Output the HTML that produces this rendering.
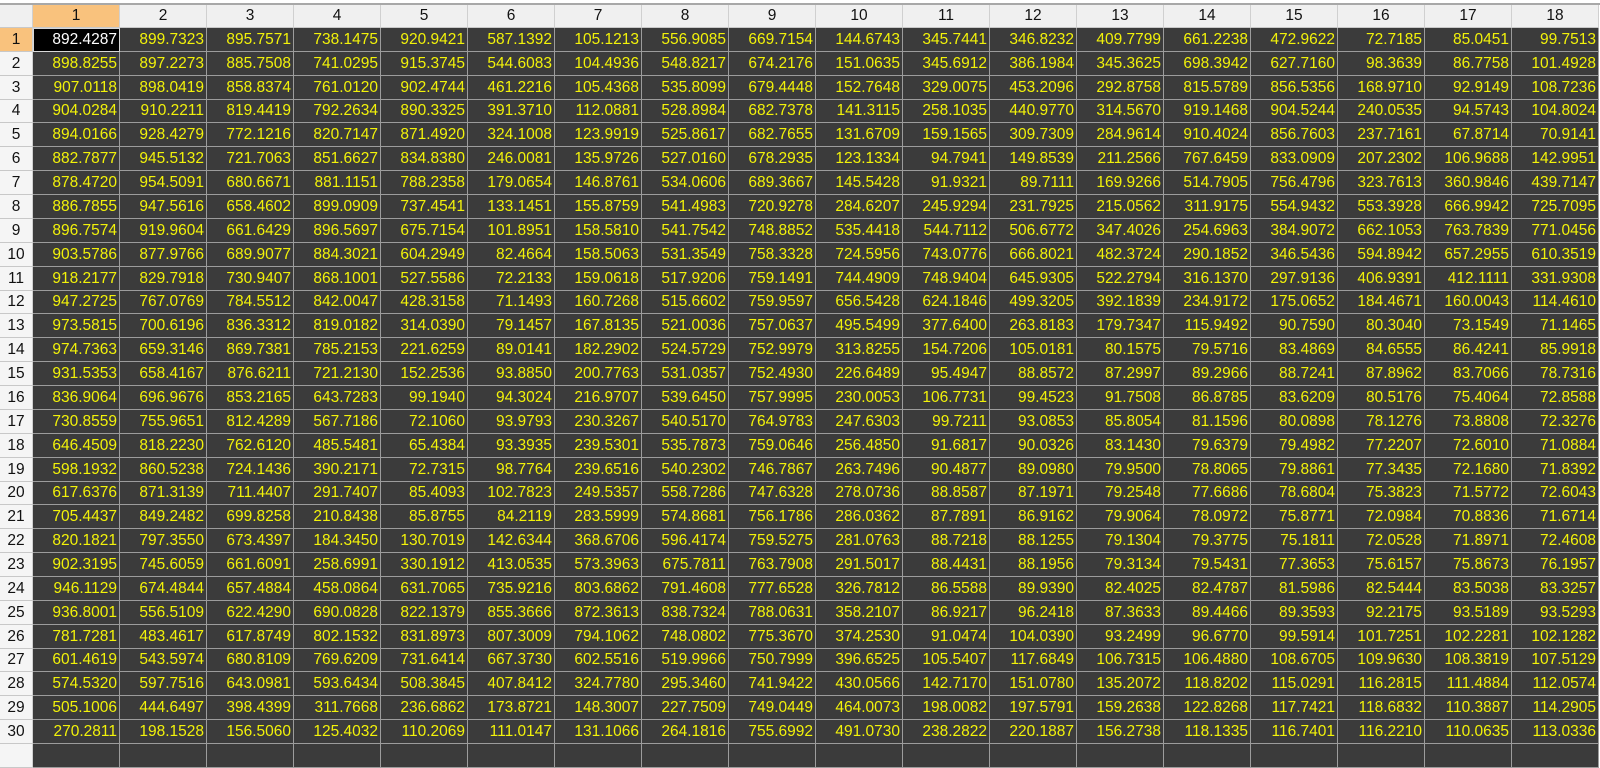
<!DOCTYPE html>
<html><head><meta charset="utf-8">
<style>
html,body{margin:0;padding:0;width:1600px;height:752px;overflow:hidden;background:#fff;font-family:"Liberation Sans",sans-serif;}
#sheet{position:absolute;left:0;top:0;width:1600px;height:752px;}
.c{position:absolute;box-sizing:border-box;font-size:15.5px;white-space:nowrap;overflow:hidden;display:flex;align-items:center;}
.d{background:#3b3b3b;color:#f2f20a;justify-content:flex-end;padding-right:2px;border-right:1px solid #9c9c9c;border-bottom:1px solid #9c9c9c;}
.h{background:#f0f0f0;color:#111;justify-content:center;border-right:1px solid #d0d0d0;border-bottom:1px solid #c8c8c8;}
.sel{background:#f9c27d;}
.act{background:#000;color:#fff;border:1px solid #d8d8d8;}
</style></head>
<body>
<div id="sheet">
<div style="position:absolute;left:0;top:0;width:1600px;height:3px;background:#fff"></div>
<div style="position:absolute;left:0;top:3px;width:1600px;height:2px;background:#a8a8a8"></div>
</div>
<script>
const rows=[
"892.4287 899.7323 895.7571 738.1475 920.9421 587.1392 105.1213 556.9085 669.7154 144.6743 345.7441 346.8232 409.7799 661.2238 472.9622 72.7185 85.0451 99.7513",
"898.8255 897.2273 885.7508 741.0295 915.3745 544.6083 104.4936 548.8217 674.2176 151.0635 345.6912 386.1984 345.3625 698.3942 627.7160 98.3639 86.7758 101.4928",
"907.0118 898.0419 858.8374 761.0120 902.4744 461.2216 105.4368 535.8099 679.4448 152.7648 329.0075 453.2096 292.8758 815.5789 856.5356 168.9710 92.9149 108.7236",
"904.0284 910.2211 819.4419 792.2634 890.3325 391.3710 112.0881 528.8984 682.7378 141.3115 258.1035 440.9770 314.5670 919.1468 904.5244 240.0535 94.5743 104.8024",
"894.0166 928.4279 772.1216 820.7147 871.4920 324.1008 123.9919 525.8617 682.7655 131.6709 159.1565 309.7309 284.9614 910.4024 856.7603 237.7161 67.8714 70.9141",
"882.7877 945.5132 721.7063 851.6627 834.8380 246.0081 135.9726 527.0160 678.2935 123.1334 94.7941 149.8539 211.2566 767.6459 833.0909 207.2302 106.9688 142.9951",
"878.4720 954.5091 680.6671 881.1151 788.2358 179.0654 146.8761 534.0606 689.3667 145.5428 91.9321 89.7111 169.9266 514.7905 756.4796 323.7613 360.9846 439.7147",
"886.7855 947.5616 658.4602 899.0909 737.4541 133.1451 155.8759 541.4983 720.9278 284.6207 245.9294 231.7925 215.0562 311.9175 554.9432 553.3928 666.9942 725.7095",
"896.7574 919.9604 661.6429 896.5697 675.7154 101.8951 158.5810 541.7542 748.8852 535.4418 544.7112 506.6772 347.4026 254.6963 384.9072 662.1053 763.7839 771.0456",
"903.5786 877.9766 689.9077 884.3021 604.2949 82.4664 158.5063 531.3549 758.3328 724.5956 743.0776 666.8021 482.3724 290.1852 346.5436 594.8942 657.2955 610.3519",
"918.2177 829.7918 730.9407 868.1001 527.5586 72.2133 159.0618 517.9206 759.1491 744.4909 748.9404 645.9305 522.2794 316.1370 297.9136 406.9391 412.1111 331.9308",
"947.2725 767.0769 784.5512 842.0047 428.3158 71.1493 160.7268 515.6602 759.9597 656.5428 624.1846 499.3205 392.1839 234.9172 175.0652 184.4671 160.0043 114.4610",
"973.5815 700.6196 836.3312 819.0182 314.0390 79.1457 167.8135 521.0036 757.0637 495.5499 377.6400 263.8183 179.7347 115.9492 90.7590 80.3040 73.1549 71.1465",
"974.7363 659.3146 869.7381 785.2153 221.6259 89.0141 182.2902 524.5729 752.9979 313.8255 154.7206 105.0181 80.1575 79.5716 83.4869 84.6555 86.4241 85.9918",
"931.5353 658.4167 876.6211 721.2130 152.2536 93.8850 200.7763 531.0357 752.4930 226.6489 95.4947 88.8572 87.2997 89.2966 88.7241 87.8962 83.7066 78.7316",
"836.9064 696.9676 853.2165 643.7283 99.1940 94.3024 216.9707 539.6450 757.9995 230.0053 106.7731 99.4523 91.7508 86.8785 83.6209 80.5176 75.4064 72.8588",
"730.8559 755.9651 812.4289 567.7186 72.1060 93.9793 230.3267 540.5170 764.9783 247.6303 99.7211 93.0853 85.8054 81.1596 80.0898 78.1276 73.8808 72.3276",
"646.4509 818.2230 762.6120 485.5481 65.4384 93.3935 239.5301 535.7873 759.0646 256.4850 91.6817 90.0326 83.1430 79.6379 79.4982 77.2207 72.6010 71.0884",
"598.1932 860.5238 724.1436 390.2171 72.7315 98.7764 239.6516 540.2302 746.7867 263.7496 90.4877 89.0980 79.9500 78.8065 79.8861 77.3435 72.1680 71.8392",
"617.6376 871.3139 711.4407 291.7407 85.4093 102.7823 249.5357 558.7286 747.6328 278.0736 88.8587 87.1971 79.2548 77.6686 78.6804 75.3823 71.5772 72.6043",
"705.4437 849.2482 699.8258 210.8438 85.8755 84.2119 283.5999 574.8681 756.1786 286.0362 87.7891 86.9162 79.9064 78.0972 75.8771 72.0984 70.8836 71.6714",
"820.1821 797.3550 673.4397 184.3450 130.7019 142.6344 368.6706 596.4174 759.5275 281.0763 88.7218 88.1255 79.1304 79.3775 75.1811 72.0528 71.8971 72.4608",
"902.3195 745.6059 661.6091 258.6991 330.1912 413.0535 573.3963 675.7811 763.7908 291.5017 88.4431 88.1956 79.3134 79.5431 77.3653 75.6157 75.8673 76.1957",
"946.1129 674.4844 657.4884 458.0864 631.7065 735.9216 803.6862 791.4608 777.6528 326.7812 86.5588 89.9390 82.4025 82.4787 81.5986 82.5444 83.5038 83.3257",
"936.8001 556.5109 622.4290 690.0828 822.1379 855.3666 872.3613 838.7324 788.0631 358.2107 86.9217 96.2418 87.3633 89.4466 89.3593 92.2175 93.5189 93.5293",
"781.7281 483.4617 617.8749 802.1532 831.8973 807.3009 794.1062 748.0802 775.3670 374.2530 91.0474 104.0390 93.2499 96.6770 99.5914 101.7251 102.2281 102.1282",
"601.4619 543.5974 680.8109 769.6209 731.6414 667.3730 602.5516 519.9966 750.7999 396.6525 105.5407 117.6849 106.7315 106.4880 108.6705 109.9630 108.3819 107.5129",
"574.5320 597.7516 643.0981 593.6434 508.3845 407.8412 324.7780 295.3460 741.9422 430.0566 142.7170 151.0780 135.2072 118.8202 115.0291 116.2815 111.4884 112.0574",
"505.1006 444.6497 398.4399 311.7668 236.6862 173.8721 148.3007 227.7509 749.0449 464.0073 198.0082 197.5791 159.2638 122.8268 117.7421 118.6832 110.3887 114.2905",
"270.2811 198.1528 156.5060 125.4032 110.2069 111.0147 131.1066 264.1816 755.6992 491.0730 238.2822 220.1887 156.2738 118.1335 116.7401 116.2210 110.0635 113.0336"
];
const sheet=document.getElementById('sheet');
const X0=33,CW=87,Y0=28,RH=23.87,HT=5;
function cell(cls,l,t,w,h,txt){const d=document.createElement('div');d.className='c '+cls;d.style.left=l+'px';d.style.top=t+'px';d.style.width=w+'px';d.style.height=h+'px';if(txt!==undefined)d.textContent=txt;sheet.appendChild(d);return d;}
let corner=cell('h',0,HT,X0,Y0-HT);


for(let c=0;c<18;c++){
  const h=cell('h'+(c===0?' sel':''),X0+c*CW,HT,CW,Y0-HT,String(c+1));
  
  
}
for(let r=0;r<31;r++){
  const t=Math.round(Y0+r*RH);
  const hgt=Math.round(Y0+(r+1)*RH)-t;
  const rh=cell('h'+(r===0?' sel':''),0,t,X0,hgt,r<30?String(r+1):'');
  rh.style.background=r===0?'#f9c27d':'#f5f5f5';
  
  
  const vals=r<30?rows[r].split(' '):[];
  for(let c=0;c<18;c++){
    const d=cell('d'+(r===0&&c===0?' act':''),X0+c*CW,t,CW,hgt,vals[c]||'');
    
    
  }
}
</script>
</body></html>
